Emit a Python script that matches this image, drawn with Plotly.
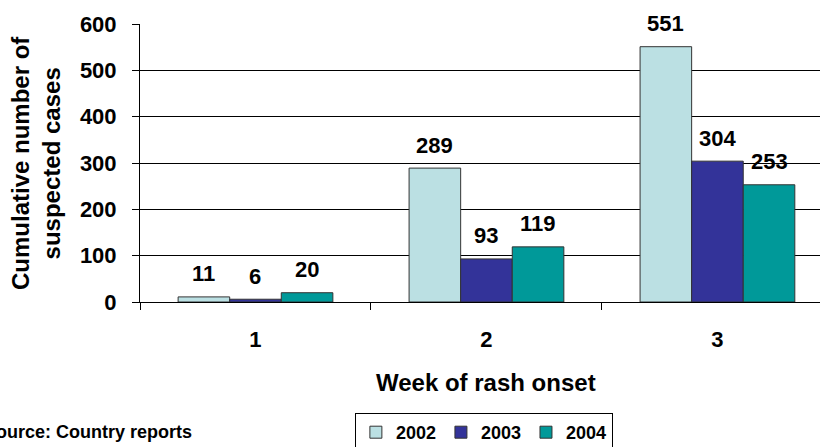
import plotly.graph_objects as go

weeks = [1, 2, 3]
week_labels = ["1", "2", "3"]
years = ["2002", "2003", "2004"]
cases_2002 = [11, 289, 551]
cases_2003 = [6, 93, 304]
cases_2004 = [20, 119, 253]
colors = ["#BBE0E3", "#333399", "#009999"]
y_ticks = [0, 100, 200, 300, 400, 500, 600]

series = [cases_2002, cases_2003, cases_2004]
FONT = "Arial, Liberation Sans, sans-serif"
BARGAP = 0.33
bar_w = (1 - BARGAP) / 3

fig = go.Figure()
for yr, vals, col in zip(years, series, colors):
    fig.add_trace(go.Bar(
        x=weeks, y=vals, name=yr,
        marker=dict(color=col, line=dict(color="#333333", width=1)),
    ))

annotations = []
for i, vals in enumerate(series):
    for w, v in zip(weeks, vals):
        annotations.append(dict(
            x=w + (i - 1) * bar_w, y=v, xref="x", yref="y",
            text=str(v), showarrow=False, yanchor="middle", yshift=23,
            font=dict(family=FONT, size=22, color="black", weight="bold"),
        ))

annotations.append(dict(
    x=2, y=-0.288, xref="x", yref="paper", text="Week of rash onset",
    showarrow=False, yanchor="middle", xanchor="center",
    font=dict(family=FONT, size=24, color="black", weight="bold"),
))
annotations.append(dict(
    x=0, y=0.5, xref="paper", yref="paper", xshift=-104,
    text="Cumulative number of<br>suspected cases", textangle=-90,
    showarrow=False, xanchor="center", yanchor="middle",
    font=dict(family=FONT, size=24, color="black", weight="bold"),
))
annotations.append(dict(
    x=0.079, y=-0.466, xref="paper", yref="paper",
    text="Source: Country reports", showarrow=False,
    xanchor="right", yanchor="middle",
    font=dict(family=FONT, size=18, color="black", weight="bold"),
))

fig.update_layout(
    width=820, height=447,
    margin=dict(l=140, r=0, t=24, b=145),
    paper_bgcolor="white", plot_bgcolor="white",
    barmode="group", bargap=BARGAP, bargroupgap=0,
    annotations=annotations,
    showlegend=True,
    legend=dict(
        orientation="h", x=0.316, xanchor="left",
        yref="container", y=1 - 413 / 447, yanchor="top",
        bordercolor="black", borderwidth=1, bgcolor="white",
        font=dict(family=FONT, size=18, color="black", weight="bold"),
    ),
    xaxis=dict(
        range=[0.5, 3.444], tickmode="array", tickvals=weeks, ticktext=week_labels,
        ticks="", showgrid=False, showline=True, linecolor="black", linewidth=1,
        zeroline=False, ticklabelstandoff=18,
        tickfont=dict(family=FONT, size=22, color="black", weight="bold"),
        minor=dict(tickmode="array", tickvals=[0.5, 1.5, 2.5], ticks="outside",
                   ticklen=7, tickcolor="black", showgrid=False),
    ),
    yaxis=dict(
        range=[0, 600], tickmode="array", tickvals=y_ticks,
        showgrid=True, gridcolor="black", gridwidth=1,
        showline=True, linecolor="black", linewidth=1,
        ticks="outside", ticklen=7, tickcolor="black", ticklabelstandoff=11,
        zeroline=False,
        tickfont=dict(family=FONT, size=22, color="black", weight="bold"),
    ),
)

fig.write_html("out.html", config={"displayModeBar": False},
               post_script="document.body.style.margin='0';")
